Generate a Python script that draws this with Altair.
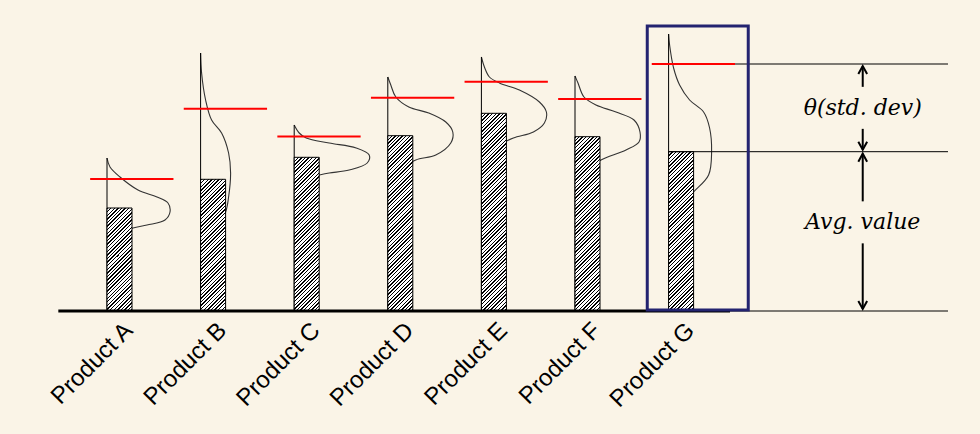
import altair as alt
import pandas as pd

# ---------------- data ----------------
products = ["Product A", "Product B", "Product C", "Product D", "Product E", "Product F", "Product G"]
avg_values = [103, 131.7, 153.7, 175.3, 197.7, 174.3, 159.3]
std_values = [29, 70.6, 20.8, 38, 31.6, 37.7, 87.7]

# distribution outline: value level and relative density
curve_levels = {
    "Product A": [153, 144, 134, 121, 114, 108, 99, 91, 86, 83, 78, 64, 53],
    "Product B": [258, 238, 211, 191, 178, 158, 138, 114, 99, 78, 38, 24],
    "Product C": [186, 178, 173, 168, 163, 156, 148, 141, 138, 136, 133, 126, 121],
    "Product D": [234, 226, 214, 204, 198, 189, 179, 168, 156, 151, 143, 134, 124],
    "Product E": [254, 244, 234, 228, 221, 209, 199, 188, 179, 173, 166, 154, 144],
    "Product F": [235, 228, 214, 206, 199, 191, 179, 169, 161, 151, 143, 134, 124],
    "Product G": [277, 266, 243, 226, 211, 199, 183, 159, 136, 119, 104, 79, 66],
}
curve_density = {
    "Product A": [0, 3, 13, 31, 50, 61, 63, 58, 40, 26, 16, 3, 0],
    "Product B": [0, 1, 5, 11, 21, 28, 30, 28, 25, 13, 1, 0],
    "Product C": [0, 5, 12, 35, 62, 75, 73, 55, 35, 25, 12, 2, 0],
    "Product D": [0, 3, 8, 21, 41, 58, 65, 63, 48, 28, 15, 5, 0],
    "Product E": [0, 3, 8, 18, 38, 58, 65, 63, 52, 32, 18, 5, 1],
    "Product F": [0, 3, 9, 21, 41, 59, 65, 64, 51, 26, 14, 4, 1],
    "Product G": [0, 1, 5, 11, 21, 35, 41, 43, 40, 25, 11, 3, 1],
}

annot_std = "θ(std. dev)"
annot_avg = "Avg. value"

# ---------------- layout constants ----------------
W, H = 980, 434
SLOT_PX = 93.6          # pixels between products
FIRST_PX = 107          # pixel position of first product
BAR_W = 25 / SLOT_PX
DENS = 1 / SLOT_PX
BG = "#FAF4E7"
NAVY = "#232370"

xs = alt.Scale(domain=[-FIRST_PX / SLOT_PX, (W - FIRST_PX) / SLOT_PX], nice=False, zero=False)
ys = alt.Scale(domain=[-(H - 311), 311], nice=False, zero=False)


def X(f):
    return alt.X(f, type="quantitative", scale=xs, axis=None)


def Y(f):
    return alt.Y(f, type="quantitative", scale=ys, axis=None)


n = len(products)
g = n - 1  # highlighted product index

base_df = pd.DataFrame({
    "product": products,
    "idx": list(range(n)),
    "avg": avg_values,
    "std": std_values,
})
base_df["bar_r"] = base_df["idx"] + BAR_W
base_df["red"] = base_df["avg"] + base_df["std"]
base_df["red_l"] = base_df["idx"] - 0.18
base_df["red_r"] = base_df["idx"] + 0.71
base_df["top"] = [curve_levels[p][0] for p in products]
base_df["zero"] = 0
base_df["lab_x"] = base_df["idx"] + 0.29
base_df["lab_y"] = -21

rows = []
for i, p in enumerate(products):
    for k, (lv, d) in enumerate(zip(curve_levels[p], curve_density[p])):
        rows.append({"product": p, "k": k, "x": i + d * DENS, "y": lv})
curve_df = pd.DataFrame(rows)

curves = alt.Chart(curve_df).mark_line(
    color="#333333", strokeWidth=1.1, interpolate="catmull-rom"
).encode(x=X("x"), y=Y("y"), detail="product:N", order="k:Q")

verticals = alt.Chart(base_df).mark_rule(color="black", strokeWidth=1).encode(
    x=X("idx"), y=Y("zero"), y2="top")


def hatch(h_px, w_px=25.0, period=3.6, ink=1.4):
    total = w_px + h_px
    d = w_px ** 2 + h_px ** 2
    stops = []
    pos = 0.0
    while pos < total:
        a = pos / total
        b = min((pos + ink) / total, 1)
        c = min((pos + period) / total, 1)
        stops += [{"offset": a, "color": "#000000"}, {"offset": b, "color": "#000000"},
                  {"offset": b, "color": "#ffffff"}, {"offset": c, "color": "#ffffff"}]
        pos += period
    return {"gradient": "linear", "x1": 0, "y1": 0,
            "x2": w_px * total / d, "y2": h_px * total / d, "stops": stops}


bars = []
for i, p in enumerate(products):
    bars.append(
        alt.Chart(base_df).transform_filter(alt.datum.product == p).mark_rect(
            stroke="black", strokeWidth=1
        ).encode(x=X("idx"), x2="bar_r", y=Y("zero"), y2="avg",
                 fill=alt.value(hatch(avg_values[i])))
    )

reds = alt.Chart(base_df).mark_rule(color="#FF0000", strokeWidth=2).encode(
    x=X("red_l"), x2="red_r", y=Y("red"))

# baseline and annotation guide lines
avg_g = avg_values[g]
red_g = avg_values[g] + std_values[g]
line_end = g + 2.985
arrow_x = g + 2.074
guide_df = pd.DataFrame({
    "x": [-0.52, g + 0.656, g + 0.71, g],
    "x2": [g + 0.656, line_end, line_end, line_end],
    "y": [0, 0, red_g, avg_g],
    "w": [3, 1, 1, 1],
})
guides = alt.Chart(guide_df).mark_rule(color="black").encode(
    x=X("x"), x2="x2", y=Y("y"), strokeWidth=alt.StrokeWidth("w:Q", scale=None))

box_df = pd.DataFrame({"x": [g - 0.228], "x2": [g + 0.851], "y": [1], "y2": [285]})
box = alt.Chart(box_df).mark_rect(fillOpacity=0, stroke=NAVY, strokeWidth=3).encode(
    x=X("x"), x2="x2", y=Y("y"), y2="y2")

# arrows
std_mid = avg_g + std_values[g] / 2
avg_mid = avg_g / 2 + 9
gap = 21
seg_df = pd.DataFrame({
    "x": [arrow_x] * 4,
    "y": [red_g - 2, std_mid - gap, avg_g - 2, avg_mid - gap],
    "y2": [std_mid + gap, avg_g + 2, avg_mid + gap, 2],
})
segs = alt.Chart(seg_df).mark_rule(color="black", strokeWidth=2).encode(
    x=X("x"), y=Y("y"), y2="y2")

up_df = pd.DataFrame({"x": [arrow_x, arrow_x], "y": [red_g - 2, avg_g - 2]})
down_df = pd.DataFrame({"x": [arrow_x, arrow_x], "y": [avg_g + 2, 2]})
ups = alt.Chart(up_df).mark_point(
    shape="M -0.55 1 L 0 0 L 0.55 1", filled=False, color="black", strokeWidth=2, size=256,
    opacity=1).encode(x=X("x"), y=Y("y"))
downs = alt.Chart(down_df).mark_point(
    shape="M -0.55 -1 L 0 0 L 0.55 -1", filled=False, color="black", strokeWidth=2, size=256,
    opacity=1).encode(x=X("x"), y=Y("y"))

ann_df = pd.DataFrame({"x": [arrow_x, arrow_x], "y": [std_mid, avg_mid], "t": [annot_std, annot_avg]})
ann = alt.Chart(ann_df).mark_text(
    font="DejaVu Serif", fontStyle="italic", fontSize=22, color="black",
    align="center", baseline="middle").encode(x=X("x"), y=Y("y"), text="t:N")

labels = alt.Chart(base_df).mark_text(
    font="Liberation Sans", fontSize=24, color="black", angle=315,
    align="right", baseline="alphabetic").encode(x=X("lab_x"), y=Y("lab_y"), text="product:N")

chart = alt.layer(
    curves, verticals, *bars, reds, guides, box, segs, ups, downs, ann, labels
).properties(
    width=W, height=H, padding=0, background=BG,
    autosize=alt.AutoSizeParams(type="none"),
).configure_view(strokeWidth=0)

chart.save("out.html", embed_options={"renderer": "svg", "actions": False})
